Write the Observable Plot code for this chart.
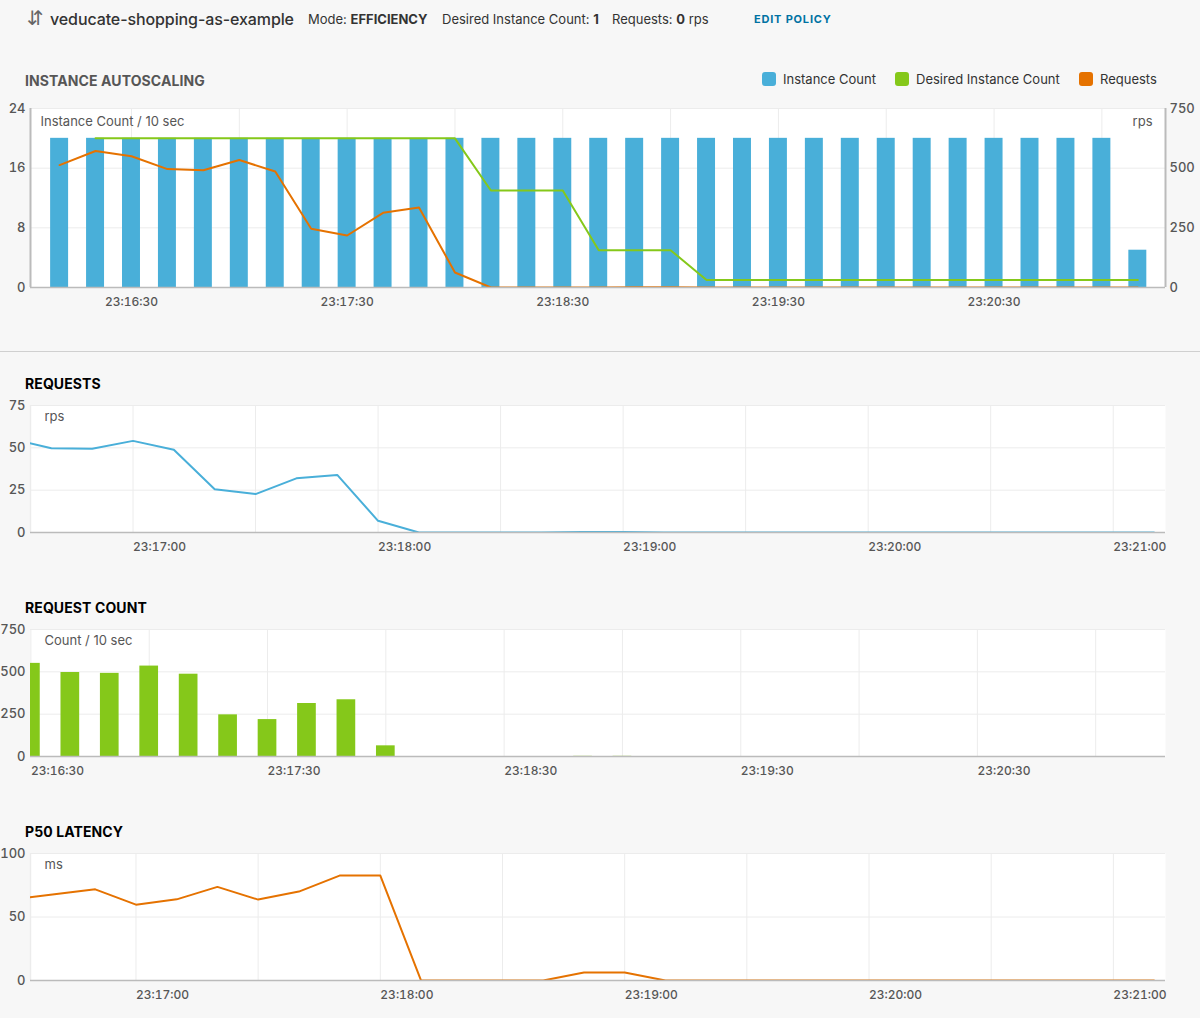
<!DOCTYPE html>
<html>
<head>
<meta charset="utf-8">
<script src="https://cdn.jsdelivr.net/npm/d3@7"></script>
<script src="https://cdn.jsdelivr.net/npm/@observablehq/plot@0.6"></script>
<style>
  body { margin: 0; background: #f7f7f7; font-family: Inter, "Noto Sans", sans-serif; color: #333; }
  #page { position: relative; width: 1200px; height: 1018px; overflow: hidden; }
  .abs { position: absolute; white-space: nowrap; line-height: 20px; }
  .hdr { font-size: 13px; color: #333; top: 9px; }
  .hdr b { font-weight: 700; }
  .title { font-size: 14px; font-weight: 700; left: 25px; letter-spacing: 0.1px; }
  .sw { position: absolute; width: 14px; height: 14px; border-radius: 3px; top: 72px; }
  .lg { font-size: 13px; color: #333; top: 69px; }
  .chart { position: absolute; left: 0; }
  .sep { position: absolute; left: 0; top: 351px; width: 1200px; height: 1px; background: #d0d0d0; }
</style>
</head>
<body>
<div id="page">
  <div class="abs" style="left:27px;top:8px;font-size:20px;color:#666;font-family:'DejaVu Sans';">⇵</div>
  <div class="abs" style="left:50px;top:9px;font-size:16px;font-weight:500;color:#333;letter-spacing:-0.1px;">veducate-shopping-as-example</div>
  <div class="abs hdr" style="left:308px;">Mode: <b>EFFICIENCY</b></div>
  <div class="abs hdr" style="left:442px;">Desired Instance Count: <b>1</b></div>
  <div class="abs hdr" style="left:612px;">Requests: <b>0</b> rps</div>
  <div class="abs" style="left:754px;top:9px;font-size:11px;font-weight:700;letter-spacing:0.8px;color:#0072a3;">EDIT POLICY</div>

  <div class="abs title" style="top:71px;color:#565656;">INSTANCE AUTOSCALING</div>
  <div class="sw" style="left:762px;background:#49afd9;"></div>
  <div class="abs lg" style="left:783px;">Instance Count</div>
  <div class="sw" style="left:895px;background:#85c81a;"></div>
  <div class="abs lg" style="left:916px;">Desired Instance Count</div>
  <div class="sw" style="left:1079px;background:#e57200;"></div>
  <div class="abs lg" style="left:1100px;">Requests</div>
  <div id="c1" class="chart" style="top:96px;"></div>

  <div class="sep"></div>

  <div class="abs title" style="top:374px;color:#000;">REQUESTS</div>
  <div id="c2" class="chart" style="top:393px;"></div>

  <div class="abs title" style="top:598px;color:#000;">REQUEST COUNT</div>
  <div id="c3" class="chart" style="top:617px;"></div>

  <div class="abs title" style="top:822px;color:#000;">P50 LATENCY</div>
  <div id="c4" class="chart" style="top:841px;"></div>
</div>
<script>
// Samples every 10 seconds
const times = [
  "23:16:10","23:16:20","23:16:30","23:16:40","23:16:50",
  "23:17:00","23:17:10","23:17:20","23:17:30","23:17:40","23:17:50",
  "23:18:00","23:18:10","23:18:20","23:18:30","23:18:40","23:18:50",
  "23:19:00","23:19:10","23:19:20","23:19:30","23:19:40","23:19:50",
  "23:20:00","23:20:10","23:20:20","23:20:30","23:20:40","23:20:50",
  "23:21:00","23:21:10"
];
const instanceCount = [
  20,20,20,20,20, 20,20,20,20,20,20, 20,20,20,20,20,20,
  20,20,20,20,20,20, 20,20,20,20,20,20, 20,5
];
const desiredInstanceCount = [
  null,20,20,20,20, 20,20,20,20,20,20, 20,13,13,13,5,5,
  5,1,1,1,1,1, 1,1,1,1,1,1, 1,1
];
// requests per 10 sec
const requestCount = [
  513,572,550,496,491, 534,486,246,218,313,335, 63,0,0,0,0,1,
  1,0,0,0,0,0, 0,0,0,0,0,0, 0,0
];
// requests per second
const requestRate = [
  null,null,55.5,49.7,49.5, 54.1,48.9,25.5,22.7,32.0,34.0, 6.9,0,0,0,0,0.3,
  0.3,0,0,0,0,0, 0,0,0,0,0,0, 0,0
];
// median latency, ms
const p50Latency = [
  null,null,64,68,71.8, 59.7,63.9,73.7,63.7,70.0,82.6, 82.6,0,0,0,0,6.3,
  6.3,0,0,0,0,0, 0,0,0,0,0,0, 0,0
];

const autoscaleTicks = ["23:16:30","23:17:30","23:18:30","23:19:30","23:20:30"];
const countTicks = ["23:16:30","23:17:30","23:18:30","23:19:30","23:20:30"];
const minuteTicks = ["23:17:00","23:18:00","23:19:00","23:20:00","23:21:00"];
const instanceTicks = [0, 8, 16, 24];
const rpsTicks = [0, 250, 500, 750];
const requestTicks = [0, 25, 50, 75];
const countYTicks = [0, 250, 500, 750];
const latencyTicks = [0, 50, 100];

const BLUE = "#49afd9", GREEN = "#85c81a", ORANGE = "#e57200";
const GRID = "#ececec", AXIS = "#bbbbbb", LABEL = "#565656";

const parse = d3.utcParse("%H:%M:%S.%L");
const at = s => parse(s.includes(".") ? s : s + ".000");
const fmt = d3.utcFormat("%H:%M:%S");

const rows = times.map((t, i) => ({
  time: at(t),
  instances: instanceCount[i],
  desired: desiredInstanceCount[i],
  count: requestCount[i],
  rps: requestRate[i],
  latency: p50Latency[i]
}));

const halfSeconds = (d, s) => new Date(+d.time + s * 1000);
const gridEvery30 = domain => d3.utcSecond.every(30).range(domain[0], new Date(+domain[1] + 1));

const common = {
  width: 1200,
  marginLeft: 30,
  marginRight: 35,
  marginTop: 12,
  marginBottom: 30,
  style: { fontFamily: "Inter, 'Noto Sans', sans-serif", fontSize: "13px", color: LABEL, background: "transparent", fontWeight: 500 }
};

// Instance autoscaling: bars on the left scale, rps mapped onto the same y range
{
  const domain = [at("23:16:01.900"), at("23:21:17.700")];
  const k = 24 / 750;
  const chart = Plot.plot({
    ...common,
    height: 12 + 179 + 30,
    x: { type: "utc", domain },
    y: { domain: [0, 24] },
    marks: [
      Plot.frame({ fill: "white", stroke: null }),
      Plot.gridY(instanceTicks, { stroke: GRID, strokeOpacity: 1 }),
      Plot.gridX(gridEvery30(domain), { stroke: GRID, strokeOpacity: 1 }),
      Plot.rectY(rows, { x1: d => halfSeconds(d, -2.5), x2: d => halfSeconds(d, 2.5), y: "instances", fill: BLUE, clip: true }),
      Plot.line(rows, { x: "time", y: "desired", stroke: GREEN, strokeWidth: 2, clip: true }),
      Plot.line(rows, { x: "time", y: d => d.count * k, stroke: ORANGE, strokeWidth: 2, clip: true }),
      Plot.ruleX([domain[0]], { stroke: AXIS, strokeWidth: 2 }),
      Plot.ruleX([domain[1]], { stroke: AXIS, strokeWidth: 2 }),
      Plot.ruleY([0], { stroke: AXIS, strokeWidth: 1.5 }),
      Plot.axisY(instanceTicks, { anchor: "left", tickSize: 0, tickPadding: 5, label: null, fontSize: 13 }),
      Plot.axisY(rpsTicks.map(v => v * k), { anchor: "right", tickSize: 0, tickPadding: 4, label: null, tickFormat: v => Math.round(v / k), fontSize: 13 }),
      Plot.axisX(autoscaleTicks.map(at), { tickSize: 0, tickPadding: 10, label: null, tickFormat: fmt, fontSize: 12 }),
      Plot.text(["Instance Count / 10 sec"], { frameAnchor: "top-left", dx: 10, dy: 8, textAnchor: "start", fill: LABEL, fontSize: 13, fontWeight: 400 }),
      Plot.text(["rps"], { frameAnchor: "top-right", dx: -13, dy: 8, textAnchor: "end", fill: LABEL, fontSize: 13, fontWeight: 400 })
    ]
  });
  document.getElementById("c1").append(chart);
}

// Requests per second
{
  const domain = [at("23:16:34.900"), at("23:21:12.800")];
  const chart = Plot.plot({
    ...common,
    height: 12 + 127 + 30,
    x: { type: "utc", domain },
    y: { domain: [0, 75] },
    marks: [
      Plot.frame({ fill: "white", stroke: null }),
      Plot.gridY(requestTicks, { stroke: GRID, strokeOpacity: 1 }),
      Plot.gridX(gridEvery30(domain), { stroke: GRID, strokeOpacity: 1 }),
      Plot.ruleX([domain[0]], { stroke: GRID, strokeWidth: 1.5 }),
      Plot.line(rows, { x: "time", y: "rps", stroke: BLUE, strokeWidth: 2, clip: true }),
      Plot.ruleY([0], { stroke: AXIS, strokeWidth: 1.5 }),
      Plot.axisY(requestTicks, { anchor: "left", tickSize: 0, tickPadding: 5, label: null, fontSize: 13 }),
      Plot.axisX(minuteTicks.map(at), { tickSize: 0, tickPadding: 10, label: null, tickFormat: fmt, textAnchor: "start", fontSize: 12 }),
      Plot.text(["rps"], { frameAnchor: "top-left", dx: 14, dy: 6, textAnchor: "start", fill: LABEL, fontSize: 13, fontWeight: 400 })
    ]
  });
  document.getElementById("c2").append(chart);
}

// Request count per 10 seconds
{
  const domain = [at("23:16:29.900"), at("23:21:17.700")];
  const chart = Plot.plot({
    ...common,
    height: 12 + 127 + 30,
    x: { type: "utc", domain },
    y: { domain: [0, 750] },
    marks: [
      Plot.frame({ fill: "white", stroke: null }),
      Plot.gridY(countYTicks, { stroke: GRID, strokeOpacity: 1 }),
      Plot.gridX(gridEvery30(domain), { stroke: GRID, strokeOpacity: 1 }),
      Plot.rectY(rows, { x1: d => halfSeconds(d, -2.37), x2: d => halfSeconds(d, 2.37), y: "count", fill: GREEN, clip: true }),
      Plot.ruleY([0], { stroke: AXIS, strokeWidth: 1.5 }),
      Plot.axisY(countYTicks, { anchor: "left", tickSize: 0, tickPadding: 5, label: null, fontSize: 13 }),
      Plot.axisX(countTicks.map(at), { tickSize: 0, tickPadding: 10, label: null, tickFormat: fmt, textAnchor: "start", fontSize: 12 }),
      Plot.text(["Count / 10 sec"], { frameAnchor: "top-left", dx: 14, dy: 6, textAnchor: "start", fill: LABEL, fontSize: 13, fontWeight: 400 })
    ]
  });
  document.getElementById("c3").append(chart);
}

// P50 latency
{
  const domain = [at("23:16:34.100"), at("23:21:12.800")];
  const chart = Plot.plot({
    ...common,
    height: 12 + 127 + 30,
    x: { type: "utc", domain },
    y: { domain: [0, 100] },
    marks: [
      Plot.frame({ fill: "white", stroke: null }),
      Plot.gridY(latencyTicks, { stroke: GRID, strokeOpacity: 1 }),
      Plot.gridX(gridEvery30(domain), { stroke: GRID, strokeOpacity: 1 }),
      Plot.ruleX([domain[0]], { stroke: GRID, strokeWidth: 1.5 }),
      Plot.line(rows, { x: "time", y: "latency", stroke: ORANGE, strokeWidth: 2, clip: true }),
      Plot.ruleY([0], { stroke: AXIS, strokeWidth: 1.5 }),
      Plot.axisY(latencyTicks, { anchor: "left", tickSize: 0, tickPadding: 5, label: null, fontSize: 13 }),
      Plot.axisX(minuteTicks.map(at), { tickSize: 0, tickPadding: 10, label: null, tickFormat: fmt, textAnchor: "start", fontSize: 12 }),
      Plot.text(["ms"], { frameAnchor: "top-left", dx: 14, dy: 6, textAnchor: "start", fill: LABEL, fontSize: 13, fontWeight: 400 })
    ]
  });
  document.getElementById("c4").append(chart);
}
</script>
</body>
</html>
